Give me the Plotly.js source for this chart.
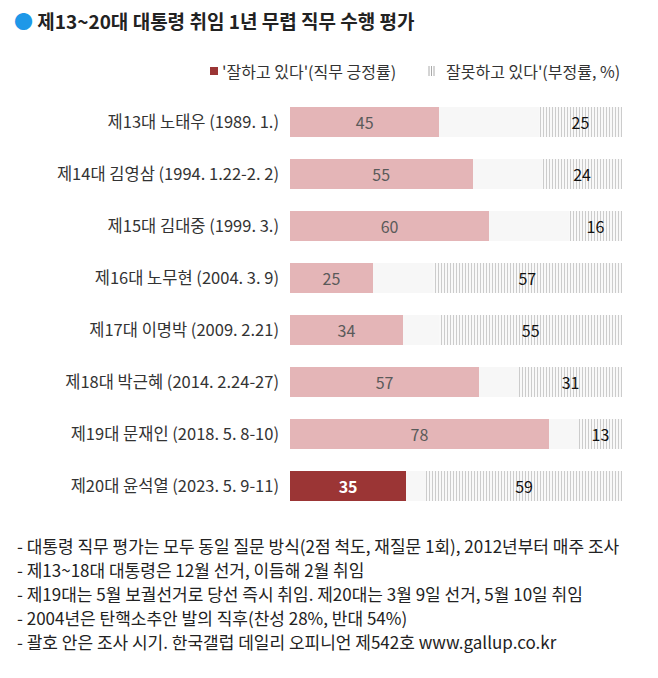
<!DOCTYPE html>
<html>
<head>
<meta charset="utf-8">
<script src="https://cdn.plot.ly/plotly-3.0.1.min.js"></script>
<style>html,body{margin:0;padding:0;background:#fff;}#chart{width:658px;height:678px;}</style>
</head>
<body>
<div id="chart"></div>
<script>
const categories = [
  "제13대 노태우 (1989. 1.)",
  "제14대 김영삼 (1994. 1.22-2. 2)",
  "제15대 김대중 (1999. 3.)",
  "제16대 노무현 (2004. 3. 9)",
  "제17대 이명박 (2009. 2.21)",
  "제18대 박근혜 (2014. 2.24-27)",
  "제19대 문재인 (2018. 5. 8-10)",
  "제20대 윤석열 (2023. 5. 9-11)"
];
const positive = [45, 55, 60, 25, 34, 57, 78, 35];
const negative = [25, 24, 16, 57, 55, 31, 13, 59];
const remainder = positive.map((p, i) => 100 - p - negative[i]);

const titleText = "제13~20대 대통령 취임 1년 무렵 직무 수행 평가";
const legendPos = "'잘하고 있다'(직무 긍정률)";
const legendNeg = "잘못하고 있다'(부정률, %)";
const footnotes = [
  "- 대통령 직무 평가는 모두 동일 질문 방식(2점 척도, 재질문 1회), 2012년부터 매주 조사",
  "- 제13~18대 대통령은 12월 선거, 이듬해 2월 취임",
  "- 제19대는 5월 보궐선거로 당선 즉시 취임. 제20대는 3월 9일 선거, 5월 10일 취임",
  "- 2004년은 탄핵소추안 발의 직후(찬성 28%, 반대 54%)",
  "- 괄호 안은 조사 시기. 한국갤럽 데일리 오피니언 제542호 www.gallup.co.kr"
];

const FONT = "'Noto Sans CJK KR', 'Noto Sans', sans-serif";
const PINK = "#e4b5b7";
const DARKRED = "#9b3535";
const lastIdx = categories.length - 1;

const posColors = positive.map((_, i) => i === lastIdx ? DARKRED : PINK);
const posTextColors = positive.map((_, i) => i === lastIdx ? "#ffffff" : "#5a5a5a");
const posTextWeights = positive.map((_, i) => i === lastIdx ? 700 : 400);

const traces = [
  {
    type: "bar", orientation: "h", y: categories, x: positive,
    marker: {color: posColors, line: {width: 0}},
    text: positive.map(String), textposition: "inside", insidetextanchor: "middle",
    textfont: {family: FONT, size: 16, color: posTextColors, weight: posTextWeights},
    hoverinfo: "skip", showlegend: false
  },
  {
    type: "bar", orientation: "h", y: categories, x: remainder,
    marker: {color: "#f7f7f7", line: {width: 0}},
    hoverinfo: "skip", showlegend: false
  },
  {
    type: "bar", orientation: "h", y: categories, x: negative,
    marker: {color: "#f7f7f7", line: {width: 0},
      pattern: {shape: "|", fgcolor: "#a0a0a0", bgcolor: "#f9f9f9", size: 3, solidity: 0.35, fillmode: "overlay"}},
    text: negative.map(String), textposition: "inside", insidetextanchor: "middle",
    textfont: {family: FONT, size: 16, color: "#111111"},
    hoverinfo: "skip", showlegend: false
  }
];

const annotations = [];
const plotTop = 96, plotBottom = 512, plotLeft = 290, plotRight = 622;
const py = v => (plotBottom - v) / (plotBottom - plotTop);
const px = v => (v - plotLeft) / (plotRight - plotLeft);
const footY = [545, 569, 593, 617, 641];
footnotes.forEach((t, i) => {
  annotations.push({
    text: t, xref: "paper", yref: "paper", x: px(15), y: py(footY[i]),
    xanchor: "left", yanchor: "middle", showarrow: false,
    font: {family: FONT, size: 17, color: "#222"}
  });
});
// legend
annotations.push({
  text: legendPos, xref: "paper", yref: "paper", x: px(220), y: py(71),
  xanchor: "left", yanchor: "middle", showarrow: false,
  font: {family: FONT, size: 16, color: "#333"}
});
annotations.push({
  text: legendNeg, xref: "paper", yref: "paper", x: px(622), y: py(71),
  xanchor: "right", yanchor: "middle", showarrow: false,
  font: {family: FONT, size: 16, color: "#333"}
});

const shapes = [
  {type: "rect", xref: "paper", yref: "paper", x0: px(210), x1: px(218), y0: py(75), y1: py(67),
   fillcolor: DARKRED, line: {width: 0}},
  {type: "line", xref: "paper", yref: "paper", x0: px(429), x1: px(429), y0: py(76), y1: py(66), line: {color: "#aaa", width: 1}},
  {type: "line", xref: "paper", yref: "paper", x0: px(431.5), x1: px(431.5), y0: py(76), y1: py(66), line: {color: "#aaa", width: 1}},
  {type: "line", xref: "paper", yref: "paper", x0: px(434), x1: px(434), y0: py(76), y1: py(66), line: {color: "#aaa", width: 1}}
];

const layout = {
  width: 658, height: 678,
  margin: {l: plotLeft, r: 658 - plotRight, t: plotTop, b: 678 - plotBottom},
  paper_bgcolor: "#ffffff", plot_bgcolor: "#ffffff",
  barmode: "stack", bargap: 0.42,
  title: {
    text: "<span style='color:#1e98e8'>●</span> " + titleText,
    x: 14 / 658, xanchor: "left", xref: "container",
    y: 1 - 22 / 678, yanchor: "middle", yref: "container",
    font: {family: FONT, size: 19, color: "#222", weight: 700}
  },
  xaxis: {range: [0, 100], visible: false, fixedrange: true},
  yaxis: {
    type: "category", autorange: "reversed", showgrid: false, zeroline: false,
    showline: false, ticks: "", ticklabelstandoff: 10,
    tickfont: {family: FONT, size: 16.5, color: "#333"}, fixedrange: true
  },
  annotations: annotations,
  shapes: shapes,
  showlegend: false
};

Plotly.newPlot("chart", traces, layout, {displayModeBar: false, staticPlot: true});
</script>
</body>
</html>
